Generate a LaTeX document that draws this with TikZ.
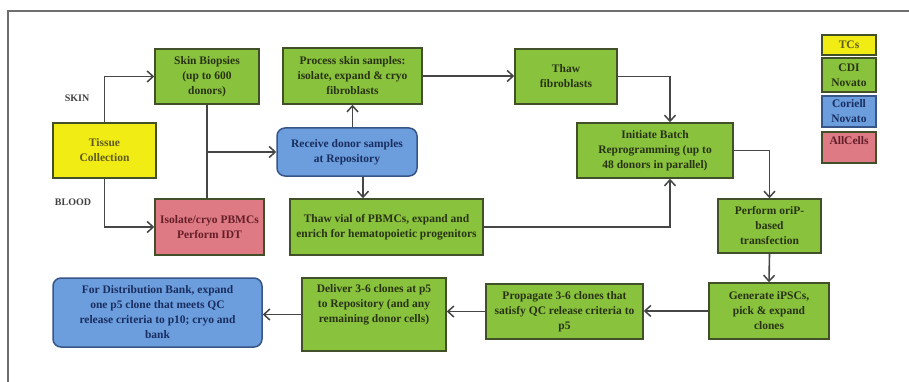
\documentclass[tikz,border=0pt]{standalone}
\usepackage{fontspec}
\setmainfont{Liberation Serif}
\usetikzlibrary{arrows.meta}
\definecolor{gfill}{RGB}{137,194,60}
\definecolor{gdraw}{RGB}{65,80,40}
\definecolor{gtext}{RGB}{40,50,20}
\definecolor{yfill}{RGB}{240,236,20}
\definecolor{ytext}{RGB}{95,90,30}
\definecolor{bfill}{RGB}{108,158,222}
\definecolor{bdraw}{RGB}{55,85,135}
\definecolor{btext}{RGB}{25,45,95}
\definecolor{pfill}{RGB}{222,122,132}
\definecolor{ptext}{RGB}{100,30,40}
\definecolor{lcol}{RGB}{70,70,70}
\definecolor{frame}{RGB}{110,110,110}
\tikzset{
  base/.style={draw=gdraw, line width=1.5pt, align=center, inner sep=1pt,
    font=\bfseries\fontsize{11.5}{15}\selectfont},
  gbox/.style={base, fill=gfill, text=gtext},
  ybox/.style={base, fill=yfill, text=ytext},
  bbox/.style={base, fill=bfill, draw=bdraw, text=btext, rounded corners=8pt},
  pbox/.style={base, fill=pfill, text=ptext},
  lgd/.style={base, minimum width=54pt, font=\bfseries\fontsize{10}{13}\selectfont},
  arr/.style={draw=lcol, line width=1.6pt, -{Straight Barb[length=6pt,width=11pt,line width=1.5pt]}},
  ln/.style={draw=lcol, line width=1.6pt},
  side/.style={font=\bfseries\fontsize{10}{12}\selectfont, text=black!75}
}
\begin{document}
\begin{tikzpicture}[x=1pt,y=-1pt]
\useasboundingbox (0,0) rectangle (909,382);
\draw[draw=frame, line width=1.5pt] (8,382) -- (8,11) -- (909,11);

\node[ybox, minimum width=103pt, minimum height=55pt] (tissue) at (104.5,150.5) {Tissue\\Collection};
\node[gbox, minimum width=104pt, minimum height=55pt] (skin) at (207,76.5) {Skin Biopsies\\(up to 600\\donors)};
\node[pbox, minimum width=109pt, minimum height=56pt] (isolate) at (209.5,227) {Isolate/cryo PBMCs\\Perform IDT};
\node[gbox, minimum width=139pt, minimum height=56pt] (process) at (352.5,76) {Process skin samples:\\isolate, expand \& cryo\\fibroblasts};
\node[bbox, minimum width=140pt, minimum height=48pt] (receive) at (347,152) {Receive donor samples\\at Repository};
\node[gbox, minimum width=193pt, minimum height=56pt] (thawvial) at (386.5,227) {Thaw vial of PBMCs, expand and\\enrich for hematopoietic progenitors};
\node[gbox, minimum width=102pt, minimum height=55pt] (thawfib) at (566,76.5) {Thaw\\fibroblasts};
\node[gbox, minimum width=156pt, minimum height=55pt] (initiate) at (655,150.5) {Initiate Batch\\Reprogramming (up to\\48 donors in parallel)};
\node[gbox, minimum width=103pt, minimum height=54pt] (perform) at (769.5,226) {Perform oriP-\\based\\transfection};
\node[gbox, minimum width=120pt, minimum height=56pt] (generate) at (769,311) {Generate iPSCs,\\pick \& expand\\clones};
\node[gbox, minimum width=157pt, minimum height=55pt] (propagate) at (564.5,311.5) {Propagate 3-6 clones that\\satisfy QC release criteria to\\p5};
\node[gbox, minimum width=144pt, minimum height=73pt] (deliver) at (374,314.5) {Deliver 3-6 clones at p5\\to Repository (and any\\remaining donor cells)\\[6pt]};
\node[bbox, minimum width=209pt, minimum height=69pt] (distrib) at (157.5,312.5) {For Distribution Bank, expand\\one p5 clone that meets QC\\release criteria to p10; cryo and\\bank};

\node[side] (skinlbl) at (77,98) {SKIN};
\node[side] (bloodlbl) at (73,202) {BLOOD};

% legend
\node[lgd, ybox, minimum height=20pt] (lg1) at (849,45) {TCs};
\node[lgd, gbox, minimum height=34pt] (lg2) at (849,75) {CDI\\Novato};
\node[lgd, bbox, rounded corners=0pt, minimum height=31pt] (lg3) at (849,111.5) {Coriell\\Novato};
\node[lgd, pbox, minimum height=31pt, text depth=14pt] (lg4) at (849,147.5) {AllCells};

% helper coordinates
\coordinate (xa) at (363,0);
\coordinate (xb) at (670,0);

% connectors
\draw[arr] (tissue.north) |- (skin.west);
\draw[arr] (tissue.south) |- (isolate.west);
\draw[ln] (skin.south) -- (skin.south |- isolate.north);
\draw[arr] (skin.south |- receive.west) -- (receive.west);
\draw[arr] (receive.north -| process.south) -- (process.south);
\draw[arr] (receive.south -| xa) -- (thawvial.north -| xa);
\draw[arr] (process.east) -- (process.east -| thawfib.west);
\draw[arr] (thawfib.east) -| (initiate.north -| xb);
\draw[arr] (thawvial.east) -| (initiate.south -| xb);
\draw[arr] (initiate.east) -| (perform.north);
\draw[arr] (perform.south) -- (generate.north);
\draw[arr] (generate.west) -- (generate.west -| propagate.east);
\draw[arr] (propagate.west) -- (propagate.west -| deliver.east);
\draw[arr] (deliver.west) -- (deliver.west -| distrib.east);
\end{tikzpicture}
\end{document}
